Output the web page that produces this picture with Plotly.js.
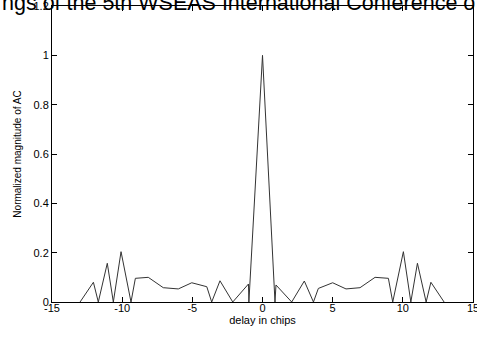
<!DOCTYPE html>
<html>
<head>
<meta charset="utf-8">
<script src="https://cdn.plot.ly/plotly-3.0.1.min.js"></script>
<style>html,body{margin:0;padding:0;background:#fff;}#chart{width:477px;height:337px;}</style>
</head>
<body>
<div id="chart"></div>
<script>
var delay = [-13, -12.05, -11.7, -11.06, -10.63, -10.08, -9.37, -9.06, -8.14, -7.07, -6.0, -5.04, -3.97, -3.62, -3.03, -2.12, -1.0, -0.97, 0, 0.89, 0.96, 2.08, 2.98, 3.63, 3.98, 5.0, 5.95, 6.95, 8.02, 8.97, 9.28, 10.04, 10.57, 11.04, 11.66, 12.0, 12.94];
var magnitude = [0, 0.08, 0, 0.157, 0, 0.204, 0, 0.096, 0.1, 0.058, 0.053, 0.078, 0.062, 0, 0.086, 0, 0.073, 0, 1.0, 0, 0.069, 0, 0.085, 0, 0.055, 0.078, 0.053, 0.058, 0.1, 0.096, 0, 0.204, 0, 0.157, 0, 0.08, 0];
var xTicks = [-15, -10, -5, 0, 5, 10, 15];
var yTicks = [0, 0.2, 0.4, 0.6, 0.8, 1, 1.2];
var headerText = "ngs of the 5th WSEAS International Conference o";

var FONT = "Liberation Sans, Arial, Helvetica, sans-serif";
var trace = {
  x: delay, y: magnitude, type: 'scatter', mode: 'lines',
  line: {color: '#333333', width: 1}, hoverinfo: 'skip'
};
var layout = {
  width: 477, height: 337,
  margin: {l: 52, r: 4, t: 6, b: 35},
  paper_bgcolor: '#ffffff', plot_bgcolor: '#ffffff',
  showlegend: false,
  font: {family: FONT, size: 11, color: '#000'},
  xaxis: {
    range: [-15, 15], tickvals: xTicks, ticktext: xTicks.map(String),
    ticks: 'inside', ticklen: 5, tickcolor: '#000', tickwidth: 1,
    showline: true, linecolor: '#000', linewidth: 1, mirror: 'ticks',
    showgrid: false, zeroline: false, automargin: false,
    ticklabeloverflow: 'allow', ticklabelstandoff: -4,
    tickfont: {family: FONT, size: 11, color: '#000'},
    title: {text: 'delay in chips', font: {family: FONT, size: 11, color: '#000'}, standoff: 1}
  },
  yaxis: {
    range: [0, 1.2], tickvals: yTicks, ticktext: yTicks.map(String),
    ticks: 'inside', ticklen: 5, tickcolor: '#000', tickwidth: 1,
    showline: true, linecolor: '#000', linewidth: 1, mirror: 'ticks',
    showgrid: false, zeroline: false, automargin: false,
    ticklabeloverflow: 'allow',
    tickfont: {family: FONT, size: 11, color: '#000'},
    title: {text: 'Normalized magnitude of AC', font: {family: FONT, size: 10, color: '#000'}, standoff: 10}
  },
  annotations: [{
    text: headerText, xref: 'paper', yref: 'paper',
    x: -0.124, y: 0.962, xanchor: 'left', yanchor: 'bottom',
    showarrow: false, font: {family: FONT, size: 21.5, color: '#000'}
  }]
};
Plotly.newPlot('chart', [trace], layout, {staticPlot: true, displayModeBar: false});
</script>
</body>
</html>
